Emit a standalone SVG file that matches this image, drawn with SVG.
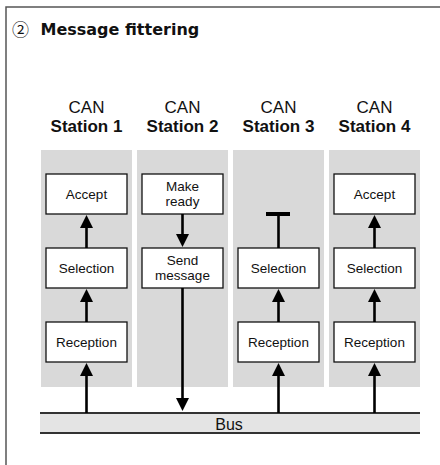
<svg xmlns="http://www.w3.org/2000/svg" width="440" height="465" viewBox="0 0 440 465">
<style>
.frame{fill:none;stroke:#555;stroke-width:1.5}
.panel{fill:#d9d9d9}
.box{fill:#fff;stroke:#111;stroke-width:1.3}
.hd{font-family:"Liberation Sans",Arial,sans-serif;font-size:17px;text-anchor:middle;fill:#111}
.hdb{font-weight:bold}
.bt{font-family:"Liberation Sans",Arial,sans-serif;font-size:13.5px;text-anchor:middle;fill:#111}
.ln{stroke:#000;stroke-width:2.6;fill:none}
.ah{fill:#000}
.bus{fill:#e4e4e4}
.busl{stroke:#333;stroke-width:2}
</style>
<defs>
<polygon id="up" points="0,0 -6.5,13 6.5,13" class="ah"/>
<polygon id="dn" points="0,0 -6.5,-13 6.5,-13" class="ah"/>
</defs>
<rect width="440" height="465" fill="#fff"/>
<path class="frame" d="M6,466 V7 H440"/>
<g id="title">
<text x="20.5" y="35.5" font-family="'Noto Sans CJK JP','Noto Sans CJK SC',sans-serif" font-size="17" text-anchor="middle" fill="#111">②</text>
<text x="40.5" y="35" font-family="'DejaVu Sans',sans-serif" font-size="16" font-weight="bold" fill="#111">Message fittering</text>
</g>
<g id="bus">
<rect class="bus" x="40" y="413" width="380" height="20"/>
<line class="busl" x1="40" y1="413" x2="420" y2="413"/>
<line class="busl" x1="40" y1="433" x2="420" y2="433"/>
<text x="229" y="430" font-family="'Liberation Sans',Arial,sans-serif" font-size="16" text-anchor="middle" fill="#111">Bus</text>
</g>
<g id="station1">
<rect class="panel" x="41" y="150" width="91" height="237"/>
<text class="hd" x="86.5" y="113">CAN</text>
<text class="hd hdb" x="86.5" y="132">Station 1</text>
<g id="s1-accept"><rect class="box" x="46" y="174" width="81" height="40"/><text class="bt" x="86.5" y="199">Accept</text></g>
<g id="s1-selection"><rect class="box" x="46" y="248" width="81" height="40"/><text class="bt" x="86.5" y="273">Selection</text></g>
<g id="s1-reception"><rect class="box" x="46" y="322" width="81" height="40"/><text class="bt" x="86.5" y="347">Reception</text></g>
</g>
<g id="station2">
<rect class="panel" x="137" y="150" width="91" height="237"/>
<text class="hd" x="182.5" y="113">CAN</text>
<text class="hd hdb" x="182.5" y="132">Station 2</text>
<g id="s2-ready"><rect class="box" x="142" y="174" width="81" height="40"/><text class="bt" x="182.5" y="191">Make</text><text class="bt" x="182.5" y="206">ready</text></g>
<g id="s2-send"><rect class="box" x="142" y="248" width="81" height="40"/><text class="bt" x="182.5" y="265">Send</text><text class="bt" x="182.5" y="280">message</text></g>
</g>
<g id="station3">
<rect class="panel" x="233" y="150" width="91" height="237"/>
<text class="hd" x="278.5" y="113">CAN</text>
<text class="hd hdb" x="278.5" y="132">Station 3</text>
<g id="s3-selection"><rect class="box" x="238" y="248" width="81" height="40"/><text class="bt" x="278.5" y="273">Selection</text></g>
<g id="s3-reception"><rect class="box" x="238" y="322" width="81" height="40"/><text class="bt" x="278.5" y="347">Reception</text></g>
</g>
<g id="station4">
<rect class="panel" x="329" y="150" width="91" height="237"/>
<text class="hd" x="374.5" y="113">CAN</text>
<text class="hd hdb" x="374.5" y="132">Station 4</text>
<g id="s4-accept"><rect class="box" x="334" y="174" width="81" height="40"/><text class="bt" x="374.5" y="199">Accept</text></g>
<g id="s4-selection"><rect class="box" x="334" y="248" width="81" height="40"/><text class="bt" x="374.5" y="273">Selection</text></g>
<g id="s4-reception"><rect class="box" x="334" y="322" width="81" height="40"/><text class="bt" x="374.5" y="347">Reception</text></g>
</g>
<g id="connectors">
<line class="ln" x1="86.5" y1="248" x2="86.5" y2="226"/><use href="#up" x="86.5" y="215"/>
<line class="ln" x1="86.5" y1="322" x2="86.5" y2="300"/><use href="#up" x="86.5" y="289"/>
<line class="ln" x1="86.5" y1="413" x2="86.5" y2="374"/><use href="#up" x="86.5" y="363"/>
<line class="ln" x1="182.5" y1="214" x2="182.5" y2="236"/><use href="#dn" x="182.5" y="247"/>
<line class="ln" x1="182.5" y1="288" x2="182.5" y2="400"/><use href="#dn" x="182.5" y="411"/>
<line class="ln" x1="278.5" y1="248" x2="278.5" y2="215"/><line x1="266" y1="214" x2="290" y2="214" stroke="#000" stroke-width="4"/>
<line class="ln" x1="278.5" y1="322" x2="278.5" y2="300"/><use href="#up" x="278.5" y="289"/>
<line class="ln" x1="278.5" y1="413" x2="278.5" y2="374"/><use href="#up" x="278.5" y="363"/>
<line class="ln" x1="374.5" y1="248" x2="374.5" y2="226"/><use href="#up" x="374.5" y="215"/>
<line class="ln" x1="374.5" y1="322" x2="374.5" y2="300"/><use href="#up" x="374.5" y="289"/>
<line class="ln" x1="374.5" y1="413" x2="374.5" y2="374"/><use href="#up" x="374.5" y="363"/>
</g>
</svg>
